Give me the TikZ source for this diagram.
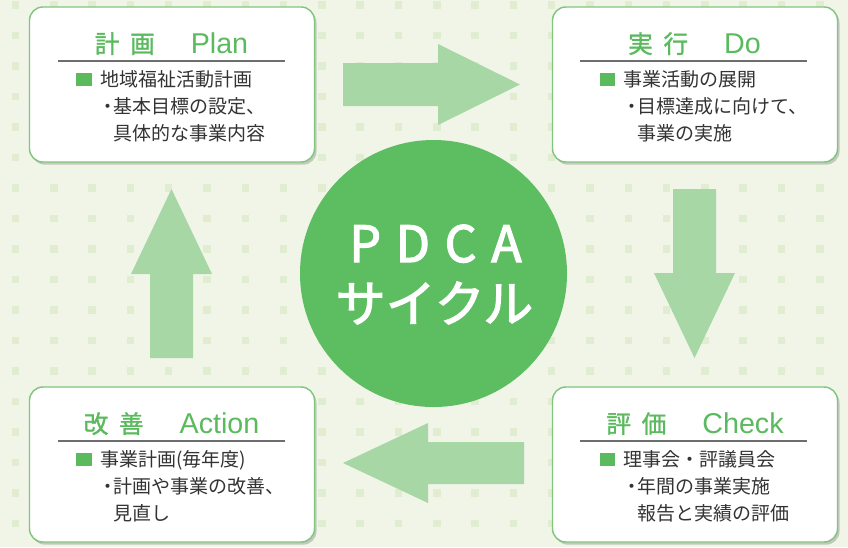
\documentclass[tikz,border=0pt]{standalone}
\usepackage{fontspec}
\setmainfont{Noto Sans CJK JP}
\newfontfamily\latinfont{Liberation Sans}
\newfontfamily\titlekanji[FakeBold=1.2]{Noto Sans CJK JP}
\newfontfamily\centerfont[FakeBold=2.5]{Noto Sans CJK JP}
\usetikzlibrary{shadows}
\definecolor{bg}{HTML}{F0F5E8}
\definecolor{dotc}{HTML}{E1EDD0}
\definecolor{boxline}{HTML}{80C67F}
\definecolor{titlegreen}{HTML}{5CBA5E}
\definecolor{circgreen}{HTML}{5DBD61}
\definecolor{arrowgreen}{HTML}{A8D7A6}
\definecolor{txt}{HTML}{333333}
\definecolor{rulegray}{HTML}{6E6E6E}
\newcommand\mktitle[3]{{\titlekanji\fontsize{18.5pt}{20pt}\selectfont #1\hspace{8pt}#2}\hspace{27pt}{\latinfont\fontsize{21.5pt}{24pt}\selectfont #3}}
\newcommand\dotmark{\makebox[0pt][r]{・\hspace{-3pt}}}
\tikzset{
  stagebox/.style={draw=boxline, line width=1.1pt, fill=white, rounded corners=10pt,
    minimum width=213.75pt, minimum height=116.25pt, inner sep=0pt,
    drop shadow={shadow xshift=1.5pt, shadow yshift=-2pt, opacity=0.18, fill=black}},
  stagetitle/.style={anchor=base, inner sep=0pt, text=titlegreen},
  bodyline/.style={anchor=base west, inner sep=0pt, text=txt, font=\fontsize{14.25pt}{17pt}\selectfont},
  bulletsq/.style={fill=titlegreen, minimum width=11.6pt, minimum height=10.1pt, inner sep=0pt},
  blockarrow/.style={fill=arrowgreen},
  seprule/.style={draw=rulegray, line width=0.8pt},
  bigtext/.style={anchor=base, inner sep=0pt, text=white, font=\centerfont\fontsize{37.5pt}{40pt}\selectfont},
}
\begin{document}
\begin{tikzpicture}[x=0.75pt, y=-0.75pt]
\useasboundingbox (0,0) rectangle (848,547);
\fill[bg] (0,0) rectangle (848,547);
% dot pattern
\foreach \i in {0,...,21}{
  \foreach \j in {0,...,17}{
    \fill[dotc] ({15.5+38.3*\i-3.75},{5+30.5*\j-3.75}) rectangle ++(7.5,7.5);
  }
}
% block arrows
\fill[blockarrow] (343,63) -- (438,63) -- (438,44) -- (520,84.5) -- (438,125) -- (438,106) -- (343,106) -- cycle;
\fill[blockarrow] (673,189) -- (716,189) -- (716,273) -- (735,273) -- (694.5,358) -- (654,273) -- (673,273) -- cycle;
\fill[blockarrow] (524,442) -- (428,442) -- (428,423) -- (343,463) -- (428,503) -- (428,484) -- (524,484) -- cycle;
\fill[blockarrow] (150,358) -- (150,274) -- (131,274) -- (171.5,189) -- (212,274) -- (193,274) -- (193,358) -- cycle;
% central circle
\node[circle, fill=circgreen, minimum size=200.25pt, inner sep=0pt] (cycle) at (433.5,273.5) {};
\node[bigtext] (pdca) at (435.5,262) {P\hspace{11pt}D\hspace{11pt}C\hspace{11pt}A};
\node[bigtext] (cycletext) at (434.5,322) {サイクル};
% boxes
\node[stagebox] (plan) at (172,84.5) {};
\node[stagebox] (do) at (695,84.5) {};
\node[stagebox] (action) at (172,464.5) {};
\node[stagebox] (check) at (695,464.5) {};
% titles
\node[stagetitle] (plantitle) at (171.5,53) {\mktitle{計}{画}{Plan}};
\node[stagetitle] (dotitle) at (694.5,53) {\mktitle{実}{行}{Do}};
\node[stagetitle] (actiontitle) at (171.5,433) {\mktitle{改}{善}{Action}};
\node[stagetitle] (checktitle) at (695,433) {\mktitle{評}{価}{Check}};
% separator rules
\coordinate (pl) at (58,61); \coordinate (pr) at (285,61);
\coordinate (dl) at (580,61); \coordinate (dr) at (807,61);
\coordinate (al) at (58,441); \coordinate (ar) at (285,441);
\coordinate (cl) at (580,441); \coordinate (cr) at (807,441);
\draw[seprule] (pl) -- (pr);
\draw[seprule] (dl) -- (dr);
\draw[seprule] (al) -- (ar);
\draw[seprule] (cl) -- (cr);
% bullets
\node[bulletsq] (planbul) at (84,79.5) {};
\node[bulletsq] (dobul) at (607.5,79.5) {};
\node[bulletsq] (actionbul) at (84,459.5) {};
\node[bulletsq] (checkbul) at (607.5,459.5) {};
% body text
\node[bodyline] (plan1) at (100,86) {地域福祉活動計画};
\node[bodyline] (plan2) at (113,113.5) {\dotmark 基本目標の設定、};
\node[bodyline] (plan3) at (113,140) {具体的な事業内容};
\node[bodyline] (do1) at (623,86) {事業活動の展開};
\node[bodyline] (do2) at (637,113.5) {\dotmark 目標達成に向けて、};
\node[bodyline] (do3) at (637,140) {事業の実施};
\node[bodyline] (action1) at (100,466) {事業計画(毎年度)};
\node[bodyline] (action2) at (113,493.5) {\dotmark 計画や事業の改善、};
\node[bodyline] (action3) at (113,520) {見直し};
\node[bodyline] (check1) at (623,466) {理事会・評議員会};
\node[bodyline] (check2) at (637,493.5) {\dotmark 年間の事業実施};
\node[bodyline] (check3) at (637,520) {報告と実績の評価};
\end{tikzpicture}
\end{document}
